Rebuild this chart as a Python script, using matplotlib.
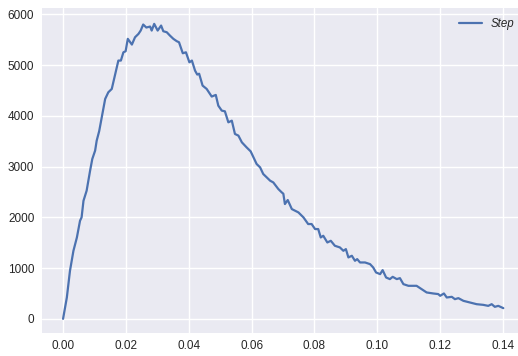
import matplotlib
matplotlib.use("Agg")
import matplotlib.pyplot as plt

# Sample positions and counts of the "Step" series
step_x = [
    0.0000, 0.0012, 0.0022, 0.0033, 0.0044, 0.0054, 0.0059, 0.0065, 0.0075,
    0.0086, 0.0093, 0.0102, 0.0107, 0.0115, 0.0123, 0.0134, 0.0144, 0.0155,
    0.0165, 0.0176, 0.0184, 0.0192, 0.0199, 0.0206, 0.0219, 0.0229, 0.0240,
    0.0247, 0.0255, 0.0265, 0.0277, 0.0282, 0.0290, 0.0301, 0.0312, 0.0319,
    0.0330, 0.0340, 0.0351, 0.0362, 0.0369, 0.0381, 0.0391, 0.0402, 0.0410,
    0.0420, 0.0427, 0.0433, 0.0444, 0.0457, 0.0473, 0.0486, 0.0494, 0.0505,
    0.0515, 0.0526, 0.0537, 0.0547, 0.0558, 0.0569, 0.0584, 0.0597, 0.0606,
    0.0616, 0.0627, 0.0637, 0.0648, 0.0659, 0.0669, 0.0685, 0.0696, 0.0701,
    0.0706, 0.0715, 0.0728, 0.0749, 0.0765, 0.0780, 0.0791, 0.0802, 0.0812,
    0.0820, 0.0828, 0.0841, 0.0852, 0.0865, 0.0881, 0.0892, 0.0900, 0.0908,
    0.0919, 0.0929, 0.0936, 0.0945, 0.0961, 0.0977, 0.0987, 0.0996, 0.1009,
    0.1017, 0.1028, 0.1040, 0.1049, 0.1062, 0.1072, 0.1083, 0.1099, 0.1115,
    0.1125, 0.1141, 0.1157, 0.1178, 0.1194, 0.1200, 0.1212, 0.1221, 0.1237,
    0.1247, 0.1258, 0.1274, 0.1295, 0.1316, 0.1337, 0.1353, 0.1364, 0.1374,
    0.1385, 0.1401,
]
step_y = [
    0, 420, 947, 1341, 1604, 1933, 2000, 2327, 2525,
    2919, 3150, 3314, 3511, 3700, 3970, 4333, 4464, 4530,
    4793, 5089, 5089, 5252, 5272, 5517, 5404, 5548, 5615,
    5680, 5799, 5740, 5759, 5680, 5812, 5680, 5779, 5667,
    5647, 5582, 5517, 5470, 5450, 5233, 5252, 5055, 5089,
    4891, 4813, 4830, 4596, 4530, 4380, 4412, 4201, 4103,
    4089, 3872, 3905, 3643, 3610, 3478, 3379, 3300, 3181,
    3051, 2985, 2854, 2787, 2722, 2688, 2558, 2491, 2465,
    2262, 2341, 2163, 2097, 1999, 1868, 1868, 1769, 1769,
    1604, 1637, 1505, 1538, 1440, 1407, 1341, 1374, 1210,
    1243, 1144, 1177, 1111, 1111, 1078, 1012, 914, 881,
    960, 815, 783, 828, 783, 802, 684, 651, 651,
    651, 586, 520, 500, 488, 454, 500, 421, 434,
    388, 408, 355, 322, 289, 276, 256, 289, 237,
    256, 211,
]

plt.style.use("seaborn-v0_8")
plt.rcParams["font.family"] = ["Liberation Sans", "DejaVu Sans"]

fig = plt.figure(figsize=(5.18, 3.56), dpi=100)
# the plotting area runs a little past the right edge of the canvas
ax = fig.add_axes([0.0811, 0.065, 0.9324, 0.913])
ax.plot(step_x, step_y, color="#4C72B0", linewidth=1.6, label="Step")
ax.set_xlim(-0.0067, 0.147)
ax.set_ylim(-276, 6128)
ax.set_xticks([0.00, 0.02, 0.04, 0.06, 0.08, 0.10, 0.12, 0.14])
ax.set_xticklabels(["0.00", "0.02", "0.04", "0.06", "0.08", "0.10", "0.12", "0.14"])
ax.set_yticks([0, 1000, 2000, 3000, 4000, 5000, 6000])
ax.tick_params(axis="x", labelsize=8.5, pad=4.8)
ax.tick_params(axis="y", labelsize=8.5, pad=5.5)
ax.legend(loc="upper right", prop={"style": "italic", "size": 8.3})
fig.savefig("out.png", dpi=100)
